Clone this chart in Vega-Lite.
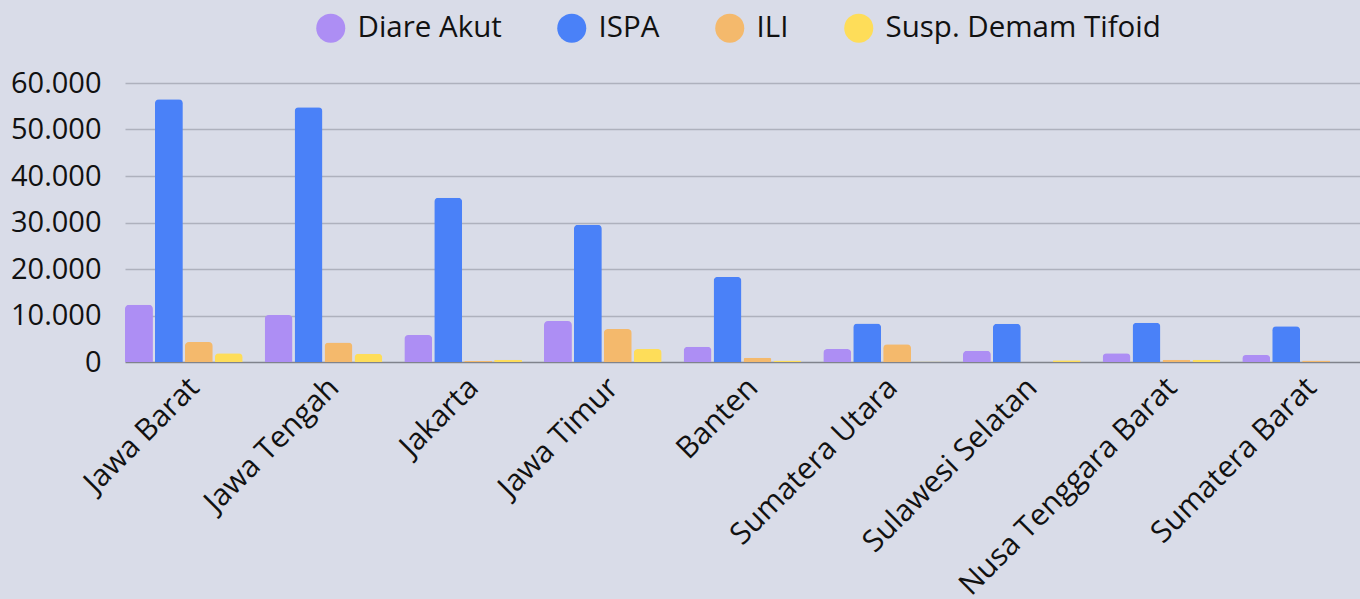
{
  "$schema": "https://vega.github.io/schema/vega-lite/v6.json",
  "autosize": "none",
  "width": 1235,
  "height": 279,
  "padding": {"left": 125, "top": 83, "right": 0, "bottom": 237},
  "background": "#d9dce8",
  "config": {
    "view": {"stroke": null},
    "font": "Open Sans"
  },
  "data": {
    "values": [
      {"prov": "Jawa Barat", "cat": "Diare Akut", "val": 12300},
      {"prov": "Jawa Barat", "cat": "ISPA", "val": 56500},
      {"prov": "Jawa Barat", "cat": "ILI", "val": 4300},
      {"prov": "Jawa Barat", "cat": "Susp. Demam Tifoid", "val": 1900},
      {"prov": "Jawa Tengah", "cat": "Diare Akut", "val": 10100},
      {"prov": "Jawa Tengah", "cat": "ISPA", "val": 54800},
      {"prov": "Jawa Tengah", "cat": "ILI", "val": 4200},
      {"prov": "Jawa Tengah", "cat": "Susp. Demam Tifoid", "val": 1800},
      {"prov": "Jakarta", "cat": "Diare Akut", "val": 5800},
      {"prov": "Jakarta", "cat": "ISPA", "val": 35300},
      {"prov": "Jakarta", "cat": "ILI", "val": 200},
      {"prov": "Jakarta", "cat": "Susp. Demam Tifoid", "val": 500},
      {"prov": "Jawa Timur", "cat": "Diare Akut", "val": 8800},
      {"prov": "Jawa Timur", "cat": "ISPA", "val": 29500},
      {"prov": "Jawa Timur", "cat": "ILI", "val": 7100},
      {"prov": "Jawa Timur", "cat": "Susp. Demam Tifoid", "val": 2800},
      {"prov": "Banten", "cat": "Diare Akut", "val": 3300},
      {"prov": "Banten", "cat": "ISPA", "val": 18300},
      {"prov": "Banten", "cat": "ILI", "val": 900},
      {"prov": "Banten", "cat": "Susp. Demam Tifoid", "val": 300},
      {"prov": "Sumatera Utara", "cat": "Diare Akut", "val": 2800},
      {"prov": "Sumatera Utara", "cat": "ISPA", "val": 8300},
      {"prov": "Sumatera Utara", "cat": "ILI", "val": 3800},
      {"prov": "Sumatera Utara", "cat": "Susp. Demam Tifoid", "val": 100},
      {"prov": "Sulawesi Selatan", "cat": "Diare Akut", "val": 2400},
      {"prov": "Sulawesi Selatan", "cat": "ISPA", "val": 8200},
      {"prov": "Sulawesi Selatan", "cat": "ILI", "val": 50},
      {"prov": "Sulawesi Selatan", "cat": "Susp. Demam Tifoid", "val": 350},
      {"prov": "Nusa Tenggara Barat", "cat": "Diare Akut", "val": 1900},
      {"prov": "Nusa Tenggara Barat", "cat": "ISPA", "val": 8450},
      {"prov": "Nusa Tenggara Barat", "cat": "ILI", "val": 500},
      {"prov": "Nusa Tenggara Barat", "cat": "Susp. Demam Tifoid", "val": 500},
      {"prov": "Sumatera Barat", "cat": "Diare Akut", "val": 1500},
      {"prov": "Sumatera Barat", "cat": "ISPA", "val": 7700},
      {"prov": "Sumatera Barat", "cat": "ILI", "val": 300},
      {"prov": "Sumatera Barat", "cat": "Susp. Demam Tifoid", "val": 50}
    ]
  },
  "mark": {"type": "bar", "cornerRadiusTopLeft": 4, "cornerRadiusTopRight": 4},
  "encoding": {
    "x": {
      "field": "prov",
      "type": "nominal",
      "sort": null,
      "title": null,
      "scale": {"paddingInner": 0.157, "paddingOuter": 0},
      "axis": {
        "labelAngle": -45,
        "labelFontSize": 30,
        "labelColor": "#111111",
        "labelPadding": 10,
        "ticks": false,
        "domain": false,
        "labelLimit": 400
      }
    },
    "xOffset": {
      "field": "cat",
      "type": "nominal",
      "sort": ["Diare Akut", "ISPA", "ILI", "Susp. Demam Tifoid"],
      "scale": {"paddingInner": 0.067, "paddingOuter": 0}
    },
    "y": {
      "field": "val",
      "type": "quantitative",
      "title": null,
      "scale": {"domain": [0, 60000]},
      "axis": {
        "values": [0, 10000, 20000, 30000, 40000, 50000, 60000],
        "labelExpr": "replace(format(datum.value, ','), ',', '.')",
        "labelFontSize": 29,
        "labelColor": "#111111",
        "labelPadding": 24,
        "ticks": false,
        "domain": false,
        "gridColor": {"condition": {"test": "datum.value === 0", "value": "#80838c"}, "value": "#aeb1bd"},
        "gridWidth": 1.5
      }
    },
    "color": {
      "field": "cat",
      "type": "nominal",
      "sort": ["Diare Akut", "ISPA", "ILI", "Susp. Demam Tifoid"],
      "scale": {
        "domain": ["Diare Akut", "ISPA", "ILI", "Susp. Demam Tifoid"],
        "range": ["#ad8ef4", "#4a81f8", "#f4b96c", "#fedd59"]
      },
      "legend": {
        "orient": "none",
        "legendX": 191,
        "legendY": -70,
        "title": null,
        "direction": "horizontal",
        "symbolType": "circle",
        "symbolSize": 841,
        "symbolStrokeWidth": 0,
        "labelFontSize": 29.5,
        "labelColor": "#111111",
        "labelOffset": 12,
        "columnPadding": 55,
        "labelLimit": 400
      }
    }
  }
}
